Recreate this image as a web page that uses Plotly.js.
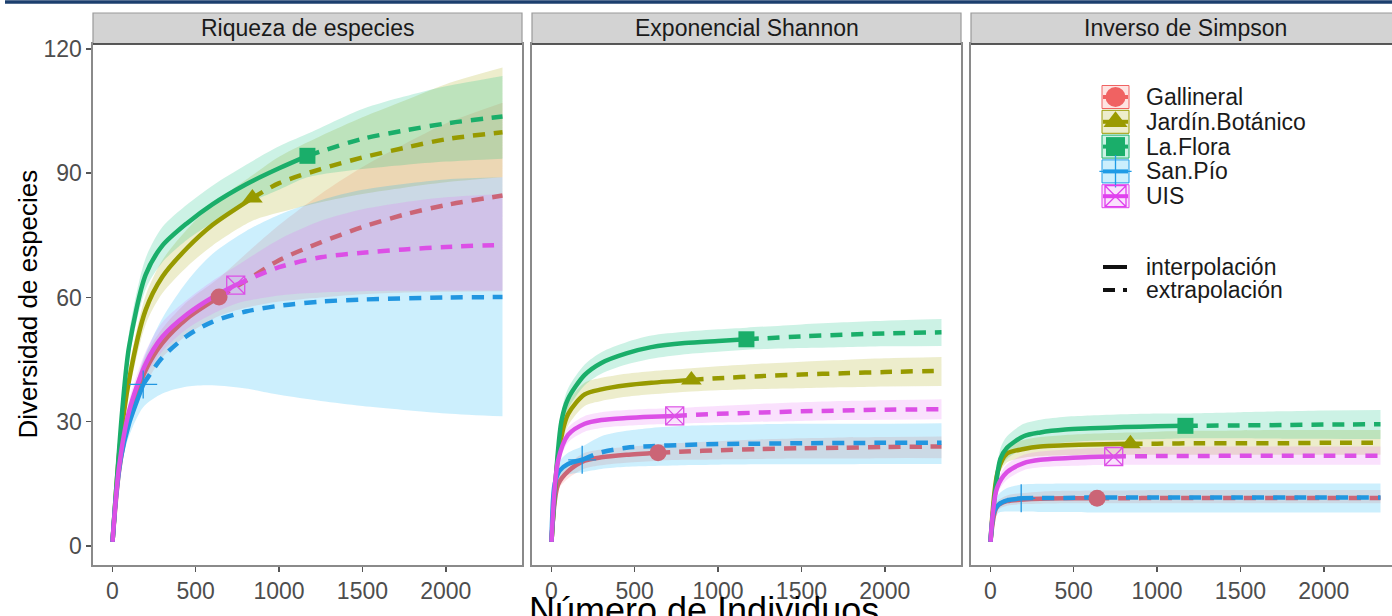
<!DOCTYPE html>
<html><head><meta charset="utf-8">
<script src="https://cdn.plot.ly/plotly-3.0.1.min.js"></script>
<style>html,body{margin:0;padding:0;overflow:hidden;background:#fff}#chart{width:1400px;height:616px}</style>
</head><body><div id="chart"></div>
<script>
// ---------------- data ----------------
const sites = ['Gallineral', 'Jardín.Botánico', 'La.Flora', 'San.Pío', 'UIS'];
const refN = [640, 840, 1170, 185, 740];
const nGrid = [
  [1, 40, 100, 200, 300, 450, 640, 800, 1000, 1250, 1500, 1750, 2000, 2340],
  [1, 45, 100, 200, 300, 450, 600, 840, 1000, 1250, 1500, 1750, 2000, 2340],
  [1, 60, 100, 200, 300, 450, 600, 800, 1000, 1170, 1500, 1750, 2000, 2340],
  [1, 20, 50, 100, 185, 300, 450, 600, 800, 1000, 1250, 1500, 2000, 2340],
  [1, 40, 100, 200, 300, 450, 600, 740, 1000, 1250, 1500, 1750, 2000, 2340]
];
// Riqueza de especies
const richEst = [
  [1, 18, 31, 42.5, 49, 55, 60.1, 64, 69, 73.3, 77, 80, 82.3, 84.6],
  [1, 24, 40, 57, 65, 72, 77.5, 84, 87.6, 91, 93.8, 96.1, 98.2, 99.9],
  [1, 33, 48, 65.5, 72.5, 78, 82.5, 87.3, 91.2, 94.2, 98.3, 100.3, 102, 103.7],
  [1, 11, 21, 29.5, 39, 45.5, 50.8, 54.1, 56.6, 58, 59, 59.5, 60, 60.1],
  [1, 19, 32.5, 44, 50.5, 56, 60, 63, 67.3, 69.7, 70.8, 71.6, 72.2, 72.7]
];
const richLo = [
  [1, 16.5, 28.5, 39, 45.5, 51, 55.5, 57.5, 59, 60, 60.8, 61.2, 61.4, 61.5],
  [1, 22, 37, 53.5, 61, 67.5, 72.5, 78.5, 80.5, 83, 85, 86.5, 87.8, 89],
  [1, 31, 45, 62, 68.5, 74, 78, 82.5, 86, 89, 91, 92, 92.8, 93.5],
  [1, 10, 19, 26.5, 33.5, 36.8, 38.5, 38.8, 38, 36.5, 35, 33.8, 32, 31.3],
  [1, 17.5, 30, 41, 47, 52.5, 56, 58.5, 60.5, 61.2, 61.5, 61.6, 61.7, 61.7]
];
const richHi = [
  [1, 19.5, 33.5, 46, 52.5, 59, 64.7, 70.5, 77.5, 85, 91.5, 97, 102, 107],
  [1, 26, 43, 60.5, 69, 76.5, 82.5, 89.5, 94, 99, 103.5, 107.5, 111.5, 115.5],
  [1, 35, 51.5, 69.5, 77, 82.5, 87, 92, 96.5, 99.5, 105.5, 108.5, 111, 113.5],
  [1, 12, 23, 32.5, 45, 55, 64, 70.5, 76, 80, 83.5, 86, 88.5, 89],
  [1, 20.5, 35, 47, 54, 59.5, 64, 67.5, 74, 78.5, 81.3, 83, 84.2, 85]
];
// Exponencial Shannon
const shanEst = [
  [1, 14.8, 18, 20.6, 21.4, 22, 22.5, 22.8, 23.1, 23.4, 23.6, 23.7, 23.9, 24],
  [1, 23, 31.8, 36.6, 37.8, 38.8, 39.4, 40.1, 40.5, 41, 41.4, 41.7, 42, 42.3],
  [1, 30, 35.5, 41.3, 44.2, 46.5, 48, 49, 49.5, 49.9, 50.6, 51, 51.3, 51.6],
  [1, 15, 18.2, 19.8, 20.8, 22.6, 23.7, 24.1, 24.4, 24.6, 24.7, 24.8, 24.9, 24.9],
  [1, 20.5, 26.8, 29.5, 30.4, 30.9, 31.2, 31.4, 31.9, 32.2, 32.5, 32.7, 32.9, 33]
];
const shanLo = [
  [1, 13.5, 16.3, 18.7, 19.5, 20.1, 20.6, 20.8, 20.9, 21, 21.1, 21.1, 21.2, 21.2],
  [1, 21, 29, 33.8, 35, 36, 36.6, 37.3, 37.6, 37.9, 38.1, 38.3, 38.5, 38.6],
  [1, 28, 33, 38.8, 41.6, 43.8, 45.2, 46.3, 46.9, 47.4, 47.8, 48, 48.2, 48.3],
  [1, 13.5, 16, 17.2, 17.8, 18.6, 19.1, 19.3, 19.5, 19.6, 19.7, 19.7, 19.8, 19.8],
  [1, 19, 25, 27.6, 28.5, 29, 29.3, 29.5, 29.8, 30, 30.2, 30.4, 30.5, 30.6]
];
const shanHi = [
  [1, 16.1, 19.7, 22.5, 23.3, 23.9, 24.5, 24.9, 25.3, 25.7, 26, 26.2, 26.3, 26.4],
  [1, 25, 34.6, 39.4, 40.6, 41.6, 42.2, 42.9, 43.4, 44, 44.5, 44.9, 45.3, 45.6],
  [1, 32, 38, 43.8, 46.8, 49.2, 50.8, 51.7, 52.3, 52.7, 53.5, 54, 54.4, 54.8],
  [1, 16.5, 20.5, 22.5, 24, 26.5, 27.8, 28.5, 29, 29.2, 29.4, 29.5, 29.5, 29.6],
  [1, 22, 28.6, 31.4, 32.3, 32.8, 33.1, 33.3, 33.8, 34.3, 34.7, 35, 35.2, 35.4]
];
// Inverso de Simpson
const simpEst = [
  [1, 9.5, 10.8, 11.2, 11.4, 11.5, 11.5, 11.5, 11.6, 11.6, 11.6, 11.6, 11.6, 11.6],
  [1, 18, 22.3, 23.4, 24, 24.3, 24.5, 24.7, 24.7, 24.8, 24.8, 24.8, 24.9, 24.9],
  [1, 21, 23.7, 26.5, 27.4, 28.1, 28.4, 28.7, 28.9, 29, 29.1, 29.2, 29.3, 29.4],
  [1, 8, 10, 11, 11.5, 11.6, 11.6, 11.7, 11.7, 11.7, 11.7, 11.7, 11.7, 11.7],
  [1, 14, 17.8, 20, 20.8, 21.2, 21.5, 21.6, 21.7, 21.7, 21.8, 21.8, 21.8, 21.8]
];
const simpLo = [
  [1, 8.5, 9.7, 10.1, 10.2, 10.3, 10.3, 10.3, 10.3, 10.3, 10.3, 10.3, 10.3, 10.3],
  [1, 16.5, 20.2, 21.3, 21.7, 21.9, 22, 22, 22, 22, 22, 22, 22, 22],
  [1, 18.5, 21, 23.5, 24.4, 25, 25.4, 25.6, 25.8, 26, 26, 25.9, 25.9, 25.8],
  [1, 6, 8, 8.3, 8.3, 8.2, 8.2, 8.1, 8.1, 8.1, 8.1, 8.1, 8.1, 8.1],
  [1, 12.5, 16, 18.3, 19, 19.3, 19.5, 19.6, 19.6, 19.6, 19.6, 19.6, 19.6, 19.6]
];
const simpHi = [
  [1, 10.7, 12.2, 12.8, 13.1, 13.3, 13.4, 13.4, 13.5, 13.5, 13.5, 13.5, 13.5, 13.5],
  [1, 19.5, 24.5, 25.6, 26.3, 26.8, 27.1, 27.4, 27.6, 27.8, 27.9, 28, 28, 28],
  [1, 23.5, 26.5, 29.5, 30.5, 31.2, 31.5, 31.8, 32, 32, 32.3, 32.5, 32.7, 32.8],
  [1, 10, 12.5, 14, 14.8, 15, 15.1, 15.1, 15.1, 15.1, 15.1, 15.1, 15.1, 15.1],
  [1, 15.5, 19.7, 22, 22.8, 23.3, 23.6, 23.8, 23.9, 24, 24, 24, 24, 24]
];
const facetTitles = ['Riqueza de especies', 'Exponencial Shannon', 'Inverso de Simpson'];
const methodLabels = ['interpolación', 'extrapolación'];
const xTicks = [0, 500, 1000, 1500, 2000];
const yTicks = [0, 30, 60, 90, 120];

// ---------------- styles ----------------
const lineColors = ['#cb6576', '#979a00', '#1aae6a', '#2196e0', '#dc4fe6'];
const keyColors = ['#f06262', '#9a9a00', '#1aae6a', '#1e9be6', '#e040ee'];
const ribbonColors = ['rgba(248,118,109,0.2)', 'rgba(163,165,0,0.2)', 'rgba(0,191,125,0.2)',
                      'rgba(0,176,246,0.2)', 'rgba(231,107,243,0.2)'];
const symbols = ['circle', 'triangle-up', 'square', 'cross-thin-open', 'square-x-open'];
const symSizes = [17, 18, 16, 20, 18];
const FONT = 'Liberation Sans, Arial, Helvetica, sans-serif';
const TXT = 23;
const W = 1400, H = 616;
const px = v => v / W, py = v => 1 - v / H;
const panelX = [[93, 522], [532, 961], [971, 1400]];
const plotTop = 44, plotBottom = 565, stripTop = 13;
const xRange = [-116, 2457], yRange = [-4.6, 121.2];
const DASH = '12px,9px';

const panels = [
  {est: richEst, lo: richLo, hi: richHi},
  {est: shanEst, lo: shanLo, hi: shanHi},
  {est: simpEst, lo: simpLo, hi: simpHi}
];

const traces = [];
panels.forEach((p, k) => {
  const xa = k === 0 ? 'x' : 'x' + (k + 1), ya = k === 0 ? 'y' : 'y' + (k + 1);
  sites.forEach((s, i) => {
    traces.push({x: nGrid[i], y: p.lo[i], xaxis: xa, yaxis: ya, mode: 'lines',
      line: {width: 0, shape: 'spline', smoothing: 0.8}, hoverinfo: 'skip', showlegend: false});
    traces.push({x: nGrid[i], y: p.hi[i], xaxis: xa, yaxis: ya, mode: 'lines', fill: 'tonexty',
      fillcolor: ribbonColors[i], line: {width: 0, shape: 'spline', smoothing: 0.8},
      hoverinfo: 'skip', showlegend: false});
  });
  sites.forEach((s, i) => {
    const mi = nGrid[i].indexOf(refN[i]);
    traces.push({x: nGrid[i].slice(0, mi + 1), y: p.est[i].slice(0, mi + 1), xaxis: xa, yaxis: ya,
      mode: 'lines', line: {color: lineColors[i], width: 4.5, shape: 'spline', smoothing: 0.8},
      name: s, showlegend: false});
    traces.push({x: nGrid[i].slice(mi), y: p.est[i].slice(mi), xaxis: xa, yaxis: ya,
      mode: 'lines', line: {color: lineColors[i], width: 4.5, dash: DASH, shape: 'spline', smoothing: 0.8},
      name: s, showlegend: false});
  });
  sites.forEach((s, i) => {
    const mi = nGrid[i].indexOf(refN[i]);
    const open = symbols[i].endsWith('open');
    traces.push({x: [refN[i]], y: [p.est[i][mi]], xaxis: xa, yaxis: ya, mode: 'markers',
      marker: {symbol: symbols[i], size: symSizes[i], color: lineColors[i],
               line: {color: lineColors[i], width: open ? 1.3 : 0}},
      name: s, showlegend: false});
  });
});

// ---- custom legend (drawn on an invisible pixel-space overlay axis) ----
const keyX0 = 1102, keyX1 = 1129, keyCy0 = 97, keyStep = 24.8, keyH = 23, textX = 1144;
const shapes = [];
const annotations = [];
sites.forEach((s, i) => {
  const cy = keyCy0 + i * keyStep;
  shapes.push({type: 'rect', xref: 'paper', yref: 'paper', x0: px(keyX0), x1: px(keyX1),
    y0: py(cy + keyH / 2), y1: py(cy - keyH / 2), fillcolor: ribbonColors[i],
    line: {color: keyColors[i], width: 1}, layer: 'below'});
  traces.push({x: [keyX0 + 1, keyX1 - 1], y: [cy, cy], xaxis: 'x4', yaxis: 'y4', mode: 'lines',
    line: {color: keyColors[i], width: 4}, hoverinfo: 'skip', showlegend: false});
  const open = symbols[i].endsWith('open');
  traces.push({x: [(keyX0 + keyX1) / 2], y: [cy], xaxis: 'x4', yaxis: 'y4', mode: 'markers',
    marker: {symbol: symbols[i], size: symSizes[i] + 3, color: keyColors[i],
             line: {color: keyColors[i], width: open ? 1.3 : 0}},
    hoverinfo: 'skip', showlegend: false});
  annotations.push({xref: 'paper', yref: 'paper', x: px(textX), y: py(cy), xanchor: 'left',
    yanchor: 'middle', text: s, showarrow: false, font: {size: TXT, color: '#1a1a1a', family: FONT}});
});
const methCy = [267, 290];
methodLabels.forEach((m, j) => {
  traces.push({x: [1103, 1127], y: [methCy[j], methCy[j]], xaxis: 'x4', yaxis: 'y4', mode: 'lines',
    line: {color: '#111', width: 4, dash: j === 0 ? 'solid' : '12px,8px'},
    hoverinfo: 'skip', showlegend: false});
  annotations.push({xref: 'paper', yref: 'paper', x: px(textX), y: py(methCy[j]), xanchor: 'left',
    yanchor: 'middle', text: m, showarrow: false, font: {size: TXT, color: '#1a1a1a', family: FONT}});
});

// top blue rule
shapes.push({type: 'rect', xref: 'paper', yref: 'paper', x0: px(5), x1: 1, y0: py(3.8), y1: py(0.3),
  fillcolor: '#1c3f6e', line: {width: 0}, layer: 'above'});
// strips
panelX.forEach((pxr, k) => {
  shapes.push({type: 'rect', xref: 'paper', yref: 'paper', x0: px(pxr[0]), x1: px(pxr[1]),
    y0: py(plotTop), y1: py(stripTop), fillcolor: '#d3d3d3', line: {color: '#9a9a9a', width: 1.2},
    layer: 'above'});
  shapes.push({type: 'line', xref: 'paper', yref: 'paper', x0: px(pxr[0]), x1: px(pxr[1]),
    y0: py(plotTop), y1: py(plotTop), line: {color: '#333', width: 1.5}, layer: 'above'});
  annotations.push({xref: 'paper', yref: 'paper', x: px((pxr[0] + pxr[1]) / 2), y: py((plotTop + stripTop) / 2),
    xanchor: 'center', yanchor: 'middle', text: facetTitles[k], showarrow: false,
    font: {size: TXT, color: '#1a1a1a', family: FONT}});
});
// axis titles
annotations.push({xref: 'paper', yref: 'paper', x: px(27), y: py((plotTop + plotBottom) / 2),
  xanchor: 'center', yanchor: 'middle', textangle: -90, text: 'Diversidad de especies',
  showarrow: false, font: {size: 26, color: '#000', family: FONT}});
annotations.push({xref: 'paper', yref: 'paper', x: px(704), y: py(610),
  xanchor: 'center', yanchor: 'middle', text: 'Número de Individuos',
  showarrow: false, font: {size: 36, color: '#000', family: FONT}});

const layout = {
  width: W, height: H, margin: {l: 0, r: 0, t: 0, b: 0},
  paper_bgcolor: '#fff', plot_bgcolor: 'rgba(0,0,0,0)',
  font: {family: FONT, color: '#4d4d4d'},
  showlegend: false, shapes: shapes, annotations: annotations
};
panelX.forEach((pxr, k) => {
  const sfx = k === 0 ? '' : String(k + 1);
  layout['xaxis' + sfx] = {domain: [px(pxr[0]), px(pxr[1])], range: xRange, anchor: 'y' + sfx,
    tickvals: xTicks, ticktext: xTicks.map(String), ticks: 'outside', ticklen: 5, tickwidth: 1.5,
    tickcolor: '#555', showline: true, linecolor: '#8a8a8a', linewidth: 1.6, mirror: true,
    showgrid: false, zeroline: false, tickfont: {size: TXT, color: '#4d4d4d', family: FONT}, fixedrange: true};
  layout['yaxis' + sfx] = {domain: [py(plotBottom), py(plotTop)], range: yRange, anchor: 'x' + sfx,
    tickvals: yTicks, ticktext: yTicks.map(String), ticks: k === 0 ? 'outside' : '', ticklen: 5,
    tickwidth: 1.5, tickcolor: '#555', showticklabels: k === 0, showline: true, linecolor: '#8a8a8a',
    linewidth: 1.6, mirror: true, showgrid: false, zeroline: false,
    tickfont: {size: TXT, color: '#4d4d4d', family: FONT}, fixedrange: true};
});
layout.xaxis4 = {domain: [0, 1], range: [0, W], anchor: 'y4', visible: false, fixedrange: true};
layout.yaxis4 = {domain: [0, 1], range: [H, 0], anchor: 'x4', visible: false, fixedrange: true};

Plotly.newPlot('chart', traces, layout, {displayModeBar: false, staticPlot: true});
</script></body></html>
